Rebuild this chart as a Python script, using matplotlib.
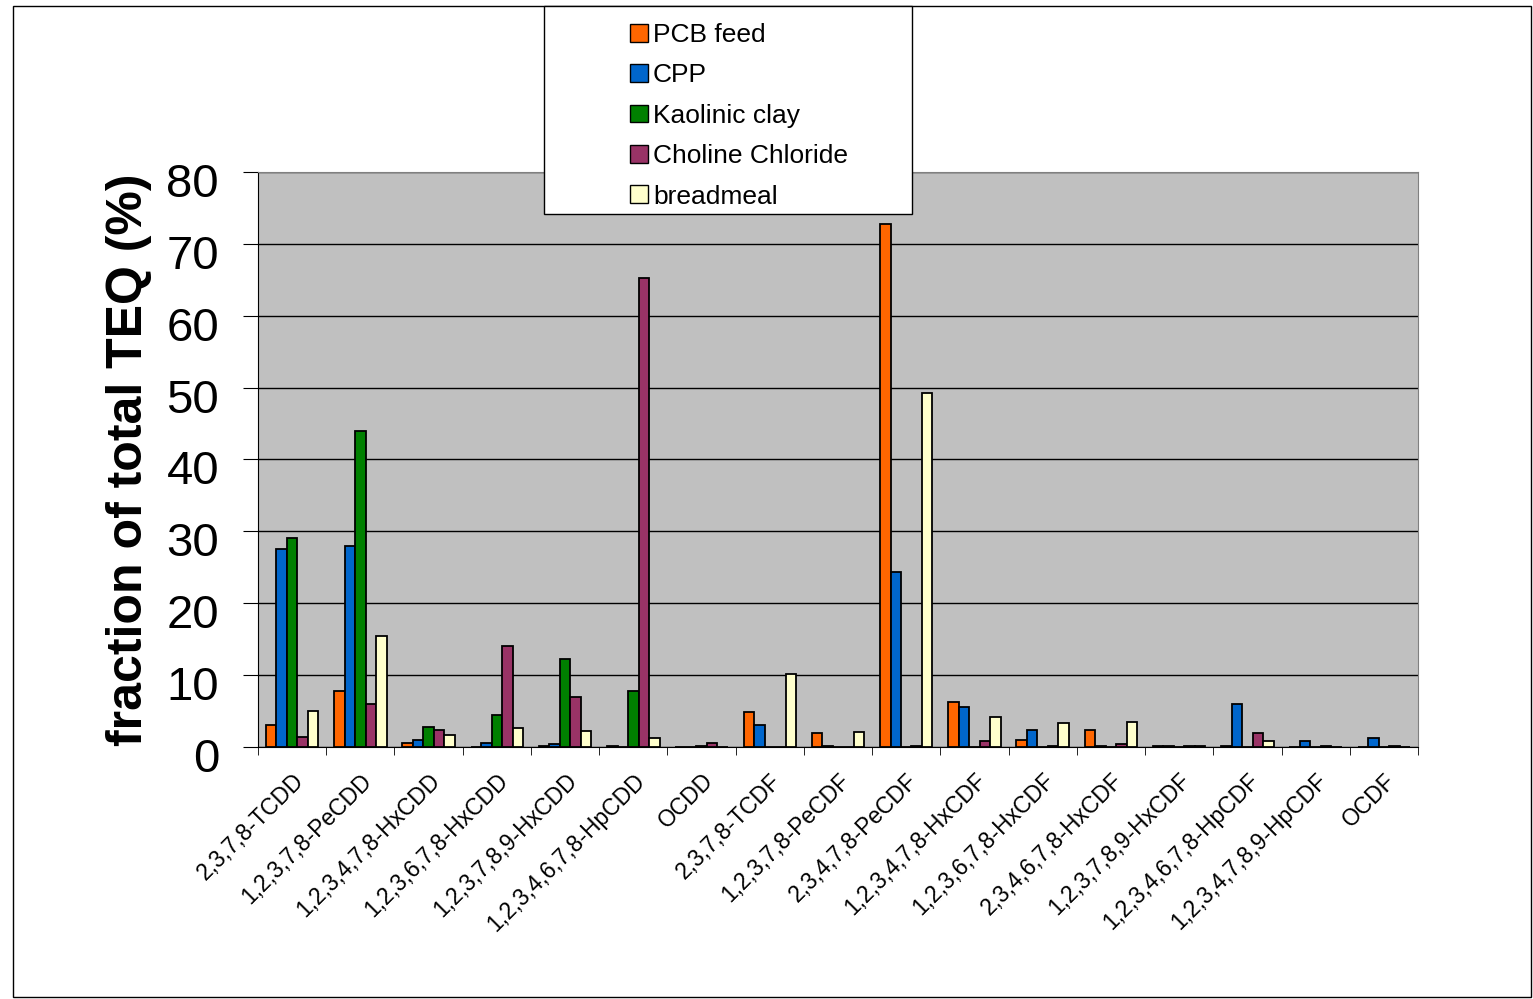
import matplotlib
matplotlib.use('Agg')
import matplotlib.pyplot as plt
import matplotlib.transforms as mtransforms
import numpy as np
from matplotlib.patches import Rectangle, Patch

plt.rcParams['font.family'] = ['Liberation Sans', 'DejaVu Sans']

congeners = ['2,3,7,8-TCDD', '1,2,3,7,8-PeCDD', '1,2,3,4,7,8-HxCDD',
             '1,2,3,6,7,8-HxCDD', '1,2,3,7,8,9-HxCDD', '1,2,3,4,6,7,8-HpCDD',
             'OCDD', '2,3,7,8-TCDF', '1,2,3,7,8-PeCDF', '2,3,4,7,8-PeCDF',
             '1,2,3,4,7,8-HxCDF', '1,2,3,6,7,8-HxCDF', '2,3,4,6,7,8-HxCDF',
             '1,2,3,7,8,9-HxCDF', '1,2,3,4,6,7,8-HpCDF', '1,2,3,4,7,8,9-HpCDF',
             'OCDF']

pcb_feed = [3.0, 7.8, 0.5, 0.0, 0.2, 0.2, 0.0, 4.9, 1.9, 72.7, 6.2, 1.0, 2.4, 0.2, 0.2, 0.0, 0.0]
cpp = [27.5, 27.9, 1.0, 0.5, 0.4, 0.0, 0.0, 3.0, 0.2, 24.4, 5.6, 2.4, 0.2, 0.2, 6.0, 0.8, 1.2]
kaolinic = [29.1, 43.9, 2.8, 4.5, 12.3, 7.8, 0.2, 0.0, 0.0, 0.0, 0.0, 0.0, 0.0, 0.0, 0.0, 0.0, 0.0]
choline = [1.4, 6.0, 2.4, 14.1, 6.9, 65.2, 0.5, 0.0, 0.0, 0.2, 0.8, 0.2, 0.4, 0.2, 1.9, 0.2, 0.2]
breadmeal = [5.0, 15.4, 1.7, 2.6, 2.2, 1.2, 0.0, 10.2, 2.1, 49.3, 4.2, 3.3, 3.5, 0.2, 0.8, 0.0, 0.0]

series = [('PCB feed', pcb_feed, '#FF6600'),
          ('CPP', cpp, '#0066CC'),
          ('Kaolinic clay', kaolinic, '#008000'),
          ('Choline Chloride', choline, '#993366'),
          ('breadmeal', breadmeal, '#FFFFCC')]

fig = plt.figure(figsize=(15.33, 9.99), dpi=100)
fig.patch.set_facecolor('white')

# outer frame
fig.patches.append(Rectangle((0.0085, 0.002), 0.99, 0.992, transform=fig.transFigure,
                             fill=False, edgecolor='black', linewidth=1.0))

ax = fig.add_axes([0.1683, 0.2523, 0.7567, 0.5755])
ax.set_facecolor('#C0C0C0')

x = np.arange(len(congeners))
bw = 1 / 6.5
for i, (name, vals, col) in enumerate(series):
    ax.bar(x + (i - 2) * bw, vals, width=bw, color=col, edgecolor='black',
           linewidth=1.3, label=name, zorder=3)

ax.set_xlim(-0.5, len(congeners) - 0.5)
ax.set_ylim(0, 80)
ax.set_yticks(np.arange(0, 81, 10))
ax.yaxis.grid(True, color='black', linewidth=1.0, zorder=1)
ax.set_axisbelow(True)
ax.tick_params(axis='y', labelsize=34, direction='out', length=11, pad=17)

# Excel draws the value labels a little below their tick
shift = mtransforms.ScaledTranslation(0, -8 / 100, fig.dpi_scale_trans)
for lab in ax.get_yticklabels():
    lab.set_transform(lab.get_transform() + shift)

ax.set_xticks(x)
ax.set_xticklabels(congeners, rotation=45, ha='right', rotation_mode='anchor', fontsize=16.5)
ax.tick_params(axis='x', length=0, pad=16)
ax.set_xticks(np.arange(-0.5, len(congeners), 1), minor=True)
ax.tick_params(axis='x', which='minor', direction='out', length=6)

for s in ['top', 'right']:
    ax.spines[s].set_color('#808080')
for s in ['left', 'bottom']:
    ax.spines[s].set_color('black')

ax.set_ylabel('fraction of total TEQ (%)', fontsize=36, fontweight='bold', labelpad=10)

# legend box
fig.patches.append(Rectangle((0.3549, 0.7858), 0.24, 0.2082, transform=fig.transFigure,
                             facecolor='white', edgecolor='black', linewidth=1.0, zorder=5))
handles = [Patch(facecolor=c, edgecolor='black', label=n) for n, v, c in series]
leg = fig.legend(handles=handles, loc='upper left', bbox_to_anchor=(0.3975, 0.998),
                 frameon=False, fontsize=19, handlelength=0.65, handleheight=0.65,
                 handletextpad=0.2, labelspacing=0.62, borderpad=0.3)
leg.set_zorder(6)

fig.savefig('out.png', dpi=100, facecolor='white')
